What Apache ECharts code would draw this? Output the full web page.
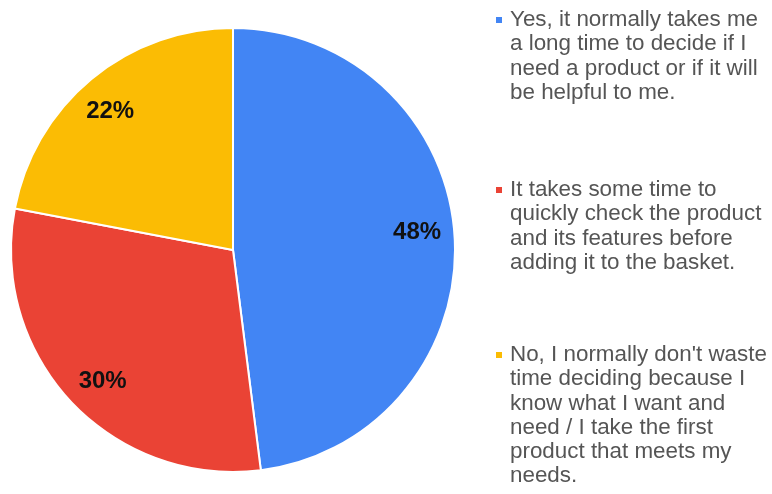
<!DOCTYPE html>
<html>
<head>
<meta charset="utf-8">
<script src="https://cdn.jsdelivr.net/npm/echarts@6/dist/echarts.min.js"></script>
<style>html,body{margin:0;padding:0;background:#fff;}#chart{width:772px;height:494px;}</style>
</head>
<body>
<div id="chart"></div>
<script>
const categories = [
  "Yes, it normally takes me a long time to decide if I need a product or if it will be helpful to me.",
  "It takes some time to quickly check the product and its features before adding it to the basket.",
  "No, I normally don't waste time deciding because I know what I want and need / I take the first product that meets my needs."
];
const legendLines = [
  "Yes, it normally takes me\na long time to decide if I\nneed a product or if it will\nbe helpful to me.",
  "It takes some time to\nquickly check the product\nand its features before\nadding it to the basket.",
  "No, I normally don't waste\ntime deciding because I\nknow what I want and\nneed / I take the first\nproduct that meets my\nneeds."
];
const values = [48, 30, 22];
const colors = ["#4285F4", "#EA4335", "#FBBC04"];

const chart = echarts.init(document.getElementById('chart'), null, {renderer: 'canvas'});
const data = categories.map((c, i) => ({name: c, value: values[i], itemStyle: {color: colors[i]}}));
const legendTops = [8, 178, 343];
const graphics = [];
legendLines.forEach((t, i) => {
  graphics.push({type: 'rect', left: 496, top: legendTops[i] + 9, shape: {width: 6, height: 6}, style: {fill: colors[i]}});
  graphics.push({type: 'text', left: 510, top: legendTops[i], style: {text: t, font: '22.4px "Liberation Sans", Arial, sans-serif', lineHeight: 24.2, fill: '#555555', verticalAlign: 'top'}});
});
chart.setOption({
  animation: false,
  backgroundColor: '#ffffff',
  series: [
    {
      type: 'pie',
      center: [233, 250],
      radius: [0, 222],
      startAngle: 90,
      clockwise: true,
      silent: true,
      label: {show: false},
      labelLine: {show: false},
      itemStyle: {borderColor: '#ffffff', borderWidth: 2},
      data: data
    },
    {
      type: 'pie',
      center: [233, 250],
      radius: [142, 222],
      startAngle: 92,
      clockwise: true,
      silent: true,
      itemStyle: {color: 'rgba(0,0,0,0)', borderWidth: 0},
      label: {show: true, position: 'inside', formatter: '{c}%', color: '#111', fontSize: 24, fontWeight: 'bold', fontFamily: '"Liberation Sans", Arial, sans-serif'},
      labelLine: {show: false},
      data: categories.map((c, i) => ({name: c, value: values[i]}))
    }
  ],
  graphic: graphics
});
</script>
</body>
</html>
